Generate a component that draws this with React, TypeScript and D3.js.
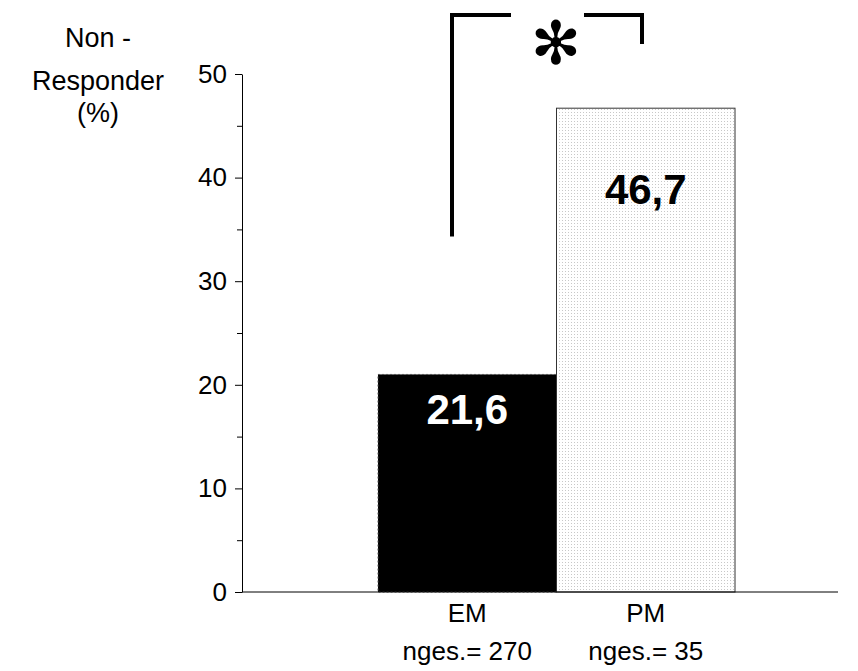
import React, { useEffect, useRef } from 'react';
import * as d3 from 'd3';

// groups on the x axis
const categories = ['EM', 'PM'];
const sampleSizes = ['nges.= 270', 'nges.= 35'];
// bar heights as drawn, and the printed labels
const barValues = [21.0, 46.7];
const barLabels = ['21,6', '46,7'];
const majorTicks = [0, 10, 20, 30, 40, 50];
const minorTicks = [5, 15, 25, 35, 45];
const yTitle = ['Non -', 'Responder', '(%)'];

const W = 858;
const H = 671;
const FONT = '"Liberation Sans", Arial, sans-serif';

export default function App() {
	const ref = useRef<SVGSVGElement>(null);

	useEffect(() => {
		const svg = d3.select(ref.current);
		svg.selectAll('*').remove();

		// plot area
		const axisX = 242;
		const axisRight = 838;
		const y = d3.scaleLinear().domain([0, 50]).range([592, 74]);
		const x = d3.scaleBand().domain(categories).range([378, 735]).paddingInner(0).paddingOuter(0);

		// dotted fill for PM bar
		const defs = svg.append('defs');
		const pat = defs.append('pattern')
			.attr('id', 'dots')
			.attr('width', 3).attr('height', 3)
			.attr('patternUnits', 'userSpaceOnUse');
		pat.append('rect').attr('width', 3).attr('height', 3).attr('fill', '#ffffff');
		pat.append('rect').attr('x', 1).attr('y', 1).attr('width', 1).attr('height', 1).attr('fill', '#c8c8c8');

		// bars
		const bars = svg.append('g');
		bars.selectAll('rect')
			.data(barValues)
			.enter()
			.append('rect')
			.attr('x', (d, i) => x(categories[i]) as number)
			.attr('width', x.bandwidth())
			.attr('y', d => y(d))
			.attr('height', d => y(0) - y(d))
			.attr('fill', (d, i) => (i === 0 ? '#000000' : 'url(#dots)'))
			.attr('stroke', (d, i) => (i === 0 ? '#555555' : '#333333'))
			.attr('stroke-width', 1)
			.attr('stroke-dasharray', (d, i) => (i === 0 ? '2,2' : null));

		// values inside bars (the two labels sit at different depths)
		const labelDrop = [50, 96];
		bars.selectAll('text')
			.data(barLabels)
			.enter()
			.append('text')
			.text(d => d)
			.attr('x', (d, i) => (x(categories[i]) as number) + x.bandwidth() / 2)
			.attr('y', (d, i) => y(barValues[i]) + labelDrop[i])
			.attr('text-anchor', 'middle')
			.attr('font-family', FONT)
			.attr('font-weight', 'bold')
			.attr('font-size', 42)
			.attr('fill', (d, i) => (i === 0 ? '#ffffff' : '#000000'));

		// y axis, major and minor ticks
		const yAxis = d3.axisLeft(y).tickValues(majorTicks).tickSize(7).tickSizeOuter(0).tickPadding(8);
		const axis = svg.append('g').attr('transform', `translate(${axisX},0)`);
		axis.call(yAxis);
		axis.select('.domain').attr('stroke', '#000').attr('stroke-width', 1);
		axis.selectAll('.tick line').attr('stroke', '#000');
		axis.selectAll('.tick text')
			.attr('font-family', FONT)
			.attr('font-size', 26)
			.attr('fill', '#000');

		const minor = svg.append('g').attr('transform', `translate(${axisX},0)`);
		minor.call(d3.axisLeft(y).tickValues(minorTicks).tickSize(5).tickFormat(() => ''));
		minor.select('.domain').remove();

		// x axis line
		svg.append('line')
			.attr('x1', axisX).attr('x2', axisRight)
			.attr('y1', y(0)).attr('y2', y(0))
			.attr('stroke', '#000').attr('stroke-width', 1);

		// category labels
		const cats = svg.append('g');
		categories.forEach((c, i) => {
			const cx = (x(c) as number) + x.bandwidth() / 2;
			cats.append('text').text(c)
				.attr('x', cx).attr('y', 622)
				.attr('text-anchor', 'middle')
				.attr('font-family', FONT).attr('font-size', 26);
			cats.append('text').text(sampleSizes[i])
				.attr('x', cx).attr('y', 660)
				.attr('text-anchor', 'middle')
				.attr('font-family', FONT).attr('font-size', 26);
		});

		// y title
		const ty = [47, 90, 122];
		yTitle.forEach((t, i) => {
			svg.append('text').text(t)
				.attr('x', 98).attr('y', ty[i])
				.attr('text-anchor', 'middle')
				.attr('font-family', FONT).attr('font-size', 27);
		});

		// significance bracket
		const br = svg.append('g')
			.attr('fill', 'none')
			.attr('stroke', '#000')
			.attr('stroke-width', 4)
			.attr('stroke-linecap', 'square');
		br.append('path').attr('d', `M452,${y(34.5)}V15H509`);
		br.append('path').attr('d', `M586,15H642V42`);
		svg.append('text').text('\u273B')
			.attr('x', 556).attr('y', 64)
			.attr('text-anchor', 'middle')
			.attr('font-family', '"DejaVu Sans"')
			.attr('font-size', 60)
			.attr('fill', '#000');
	}, []);

	return (
		<svg ref={ref} width={W} height={H}
			style={{ position: 'absolute', left: 0, top: 0, background: '#fff' }} />
	);
}
